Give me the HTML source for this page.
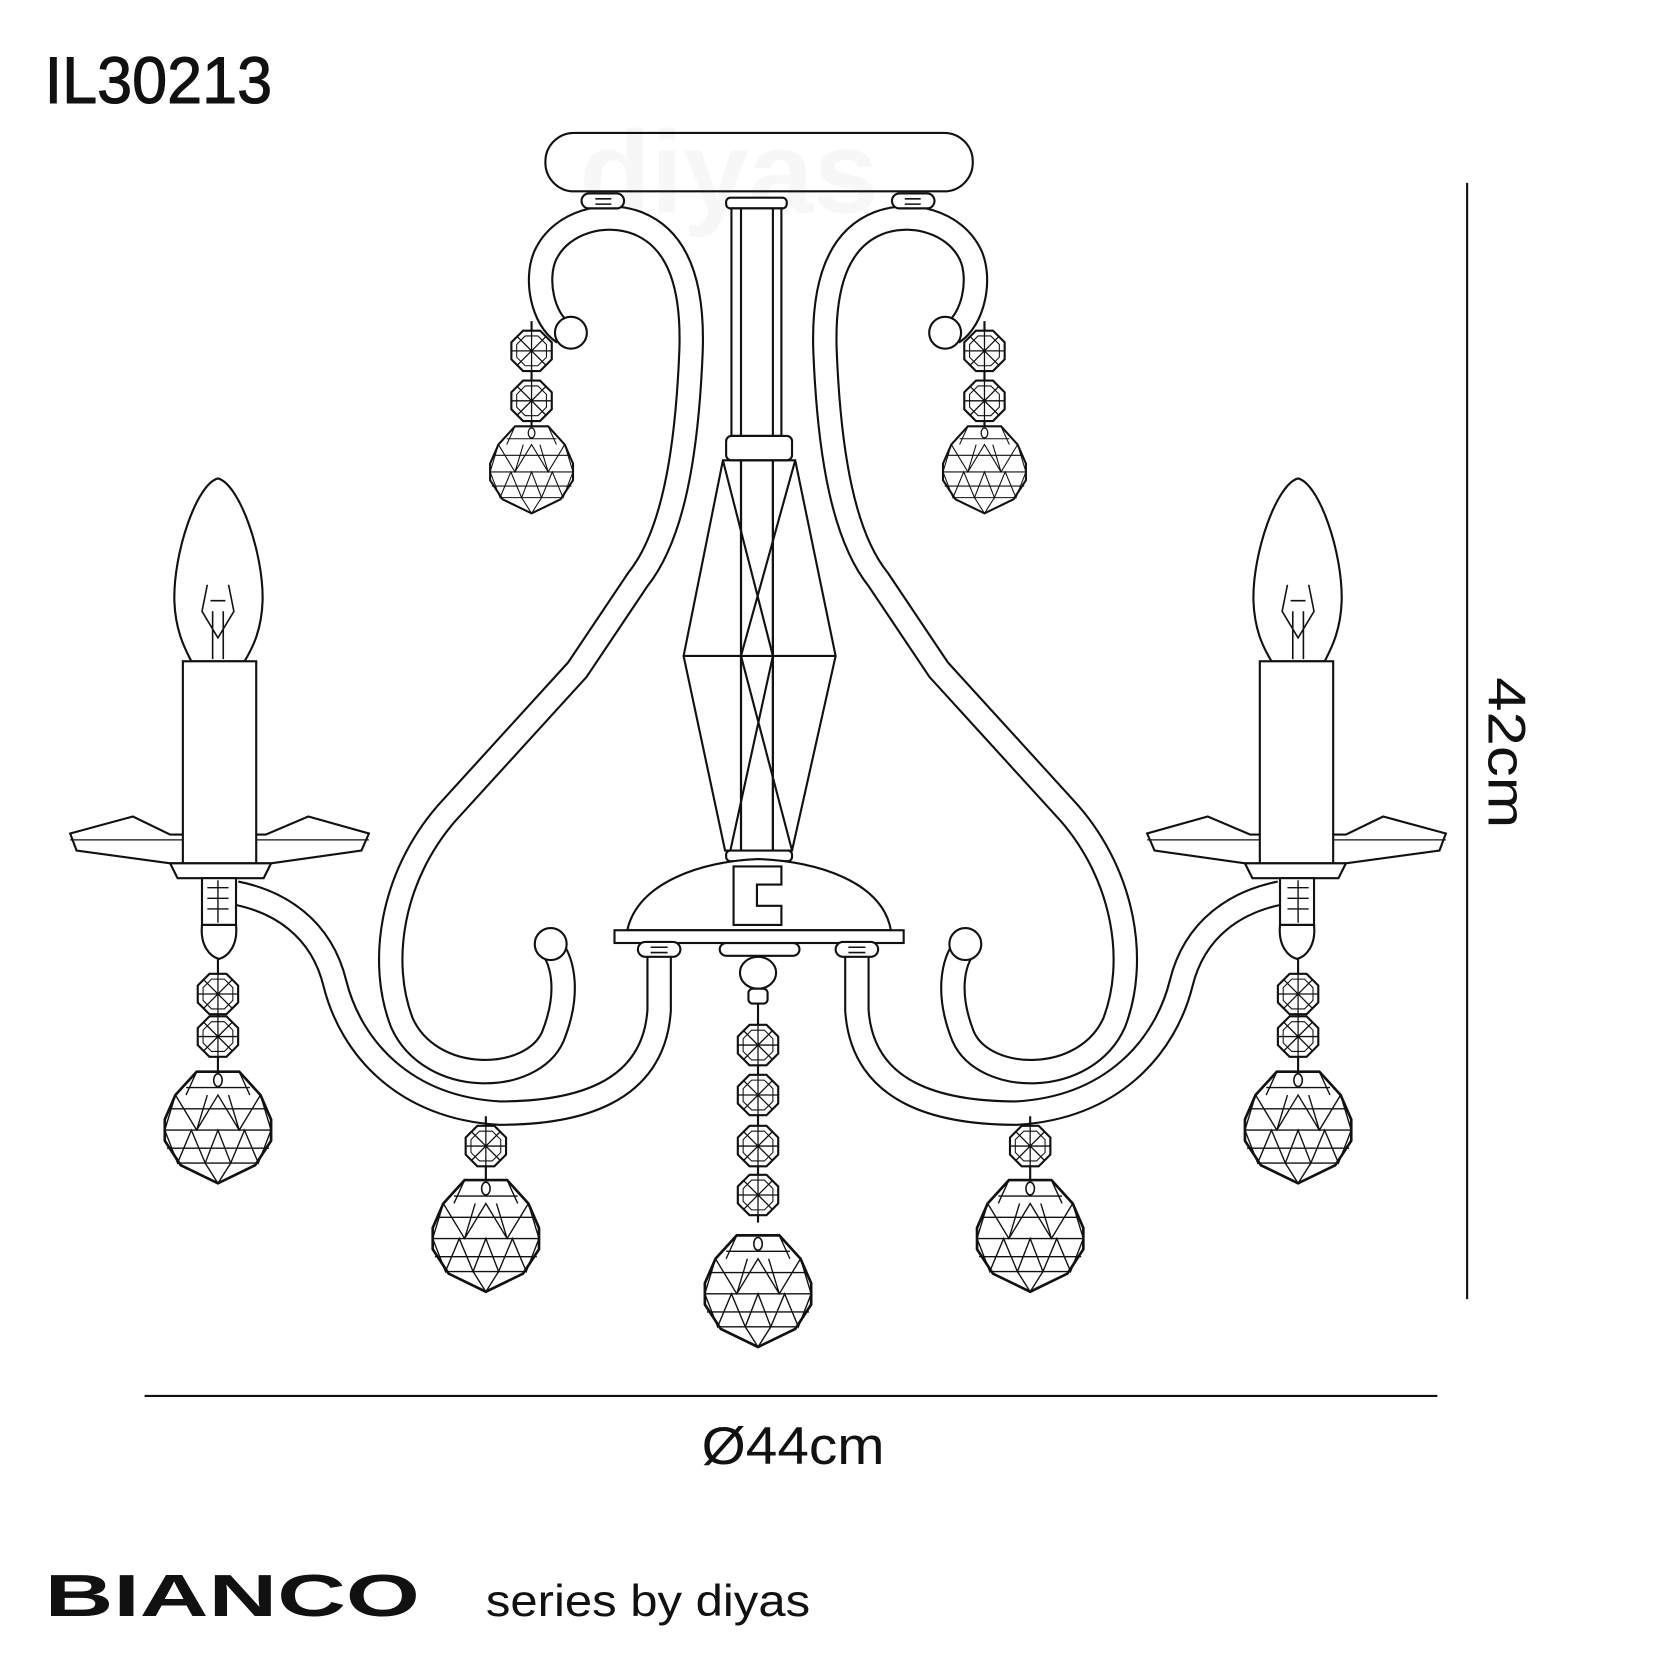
<!DOCTYPE html>
<html><head><meta charset="utf-8"><style>
html,body{margin:0;padding:0;background:#fff;}
svg{display:block;}
</style></head><body>
<svg width="1667" height="1667" viewBox="0 0 1568 1568" xmlns="http://www.w3.org/2000/svg" font-family="Liberation Sans, sans-serif">
<defs>
<g id="oct">
 <polygon points="-8,-19 8,-19 19,-8 19,8 8,19 -8,19 -19,8 -19,-8" fill="#fff" stroke="#111" stroke-width="2"/>
 <path d="M0,-19V19M-19,0H19M-13,-13L13,13M-13,13L13,-13" stroke="#111" stroke-width="1.2"/>
 <polygon points="-6,-14 6,-14 14,-6 14,6 6,14 -6,14 -14,6 -14,-6" fill="none" stroke="#111" stroke-width="1"/>
</g>
<g id="ball">
 <polygon points="-20,-50 20,-50 40,-28 50,-5 50,15 35,38 0,55 -35,38 -50,15 -50,-5 -40,-28" fill="#fff" stroke="#111" stroke-width="2.5"/>
 <path d="M-46,-15H46M-50,5H50M-48,22H48M-38,36H38M-30,-35H30M-40,-28L-20,5L0,-28L20,5L40,-28M-30,-28L-20,-50M30,-28L20,-50M-50,5L-38,36L-25,5L-12,36L0,5L12,36L25,5L38,36L50,5M-35,38L0,55L35,38M-40,-28L-50,5M40,-28L50,5M-20,5L-10,-28M20,5L10,-28M-12,36L0,55L12,36" stroke="#111" stroke-width="1.3" fill="none"/>
 <ellipse cx="0" cy="-42" rx="4" ry="6" fill="none" stroke="#111" stroke-width="1.5"/>
</g>
<g id="smallball">
 <use href="#ball" transform="scale(0.78)"/>
</g>
</defs>

<text x="42" y="97" font-size="62" fill="#111" textLength="214" lengthAdjust="spacingAndGlyphs" stroke="#111" stroke-width="1">IL30213</text>
<text x="545" y="200" font-size="110" fill="#f7f7f7" font-weight="bold">diyas</text>

<line x1="1380" y1="172" x2="1380" y2="1222" stroke="#111" stroke-width="2"/>
<text transform="translate(1400,637) rotate(90)" font-size="50" fill="#111" textLength="142" lengthAdjust="spacingAndGlyphs">42cm</text>
<line x1="136" y1="1313" x2="1352" y2="1313" stroke="#111" stroke-width="2"/>
<text x="660" y="1377" font-size="50" fill="#111" textLength="172" lengthAdjust="spacingAndGlyphs">Ø44cm</text>
<text x="42" y="1520" font-size="56" font-weight="bold" fill="#111" textLength="353" lengthAdjust="spacingAndGlyphs">BIANCO</text>
<text x="457" y="1520" font-size="42" fill="#111" textLength="305" lengthAdjust="spacingAndGlyphs">series by diyas</text>

<rect x="513" y="125" width="402" height="55" rx="27" fill="none" stroke="#111" stroke-width="2"/>

<g fill="#fff" stroke="#111" stroke-width="2">
 <rect x="683" y="186" width="57" height="10" rx="4"/>
 <rect x="688" y="196" width="47" height="214"/>
 <line x1="697" y1="196" x2="697" y2="800"/><line x1="727" y1="196" x2="727" y2="800"/>
 <rect x="683" y="410" width="62" height="23" rx="5"/>
 <polygon points="680,433 748,433 786,617 745,800 682,800 643,617" fill="none"/>
 <line x1="643" y1="617" x2="786" y2="617"/>
 <path d="M680,433L727,617L687,800M748,433L697,617L745,800" fill="none"/>
 <line x1="697" y1="433" x2="697" y2="800"/><line x1="727" y1="433" x2="727" y2="800"/>
 <rect x="683" y="800" width="62" height="10" rx="4"/>
 <path d="M590,875 C600,830 660,810 713,808 C770,810 830,830 838,875 Z"/>
 <rect x="578" y="875" width="272" height="12"/>
 <path d="M690,815H735V832H712V852H735V870H690Z"/>
 <rect x="677" y="887" width="75" height="12" rx="6"/>
 <ellipse cx="713" cy="915" rx="17" ry="15"/>
 <rect x="704" y="930" width="18" height="14" rx="4"/>
 <line x1="713" y1="944" x2="713" y2="1150"/>
</g>
<use href="#oct" x="713" y="983"/><use href="#oct" x="713" y="1030"/>
<use href="#oct" x="713" y="1078"/><use href="#oct" x="713" y="1124"/>
<use href="#ball" x="713" y="1212"/>

<g id="half">
 <path d="M530,313 C510,300 503,262 513,240 C528,208 570,198 600,210 C640,226 652,272 650,330 C646,430 632,505 600,545 L543,630 L420,765 C368,825 356,905 378,962 C405,1022 500,1020 520,975 C536,935 530,905 518,890" fill="none" stroke="#111" stroke-width="24"/>
 <path d="M530,313 C510,300 503,262 513,240 C528,208 570,198 600,210 C640,226 652,272 650,330 C646,430 632,505 600,545 L543,630 L420,765 C368,825 356,905 378,962 C405,1022 500,1020 520,975 C536,935 530,905 518,890" fill="none" stroke="#fff" stroke-width="20"/>
 <circle cx="537" cy="313" r="15" fill="#fff" stroke="#111" stroke-width="2"/>
 <circle cx="518" cy="888" r="15" fill="#fff" stroke="#111" stroke-width="2"/>
 <rect x="547" y="182" width="40" height="14" rx="7" fill="#fff" stroke="#111" stroke-width="2"/>
 <path d="M560,187H575M560,192H575" stroke="#111" stroke-width="1.5"/>
 <path d="M620,895 L620,950 C615,1030 540,1047 470,1047 C380,1042 330,985 315,925 C302,872 262,848 222,840" fill="none" stroke="#111" stroke-width="24"/>
 <path d="M620,895 L620,950 C615,1030 540,1047 470,1047 C380,1042 330,985 315,925 C302,872 262,848 222,840" fill="none" stroke="#fff" stroke-width="20"/>
 <rect x="600" y="886" width="40" height="14" rx="7" fill="#fff" stroke="#111" stroke-width="2"/>
 <path d="M612,891H628M612,896H628" stroke="#111" stroke-width="1.5"/>
 <line x1="500" y1="302" x2="500" y2="405" stroke="#111" stroke-width="2"/>
 <use href="#oct" x="500" y="330"/><use href="#oct" x="500" y="377"/>
 <use href="#smallball" x="500" y="440"/>
 <line x1="457" y1="1050" x2="457" y2="1110" stroke="#111" stroke-width="2"/>
 <use href="#oct" x="457" y="1078"/>
 <use href="#ball" x="457" y="1160"/>
 <path d="M205,450 C185,455 163,520 164,565 C165,595 175,612 180,622 L230,622 C236,612 246,595 247,565 C248,520 225,455 205,450 Z" fill="#fff" stroke="#111" stroke-width="2"/>
 <path d="M195,550L190,575L205,600L220,575L215,550M200,575V620M210,575V620M198,565H212" fill="none" stroke="#111" stroke-width="1.5"/>
 <path d="M66,784 L125,768 L160,785 L250,785 L290,768 L347,784 L340,800 L255,812 L160,812 L72,800 Z" fill="#fff" stroke="#111" stroke-width="2"/>
 <line x1="66" y1="790" x2="347" y2="790" stroke="#111" stroke-width="1.2"/>
 <rect x="172" y="622" width="69" height="190" fill="#fff" stroke="#111" stroke-width="2"/>
 <path d="M160,812 L255,812 L248,826 L167,826 Z" fill="#fff" stroke="#111" stroke-width="2"/>
 <rect x="190" y="826" width="32" height="44" fill="#fff" stroke="#111" stroke-width="2"/>
 <path d="M195,835H215M195,845H215M195,855H215M205,828V868" stroke="#111" stroke-width="1.3"/>
 <path d="M190,870 C188,890 198,900 206,902 C214,900 224,890 222,870 Z" fill="#fff" stroke="#111" stroke-width="2"/>
 <line x1="205" y1="902" x2="205" y2="1010" stroke="#111" stroke-width="2"/>
 <use href="#oct" x="205" y="935"/><use href="#oct" x="205" y="975"/>
 <use href="#ball" x="205" y="1058"/>
</g>
<use href="#half" transform="translate(1426,0) scale(-1,1)"/>
</svg>
</body></html>
